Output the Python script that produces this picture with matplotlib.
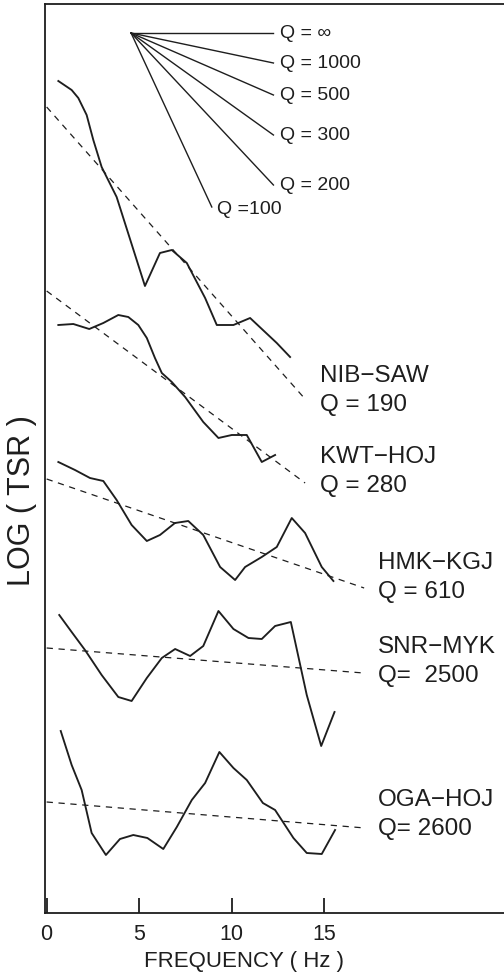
import matplotlib
matplotlib.use("Agg")
import matplotlib.pyplot as plt

plt.rcParams['font.family'] = ['Liberation Sans', 'DejaVu Sans']

# spectral ratio curves (log TSR in arbitrary offset units)
nib_f = [0.63, 1.35, 1.71, 2.16, 2.52, 2.97, 3.78, 5.31, 6.12, 6.76, 7.57, 8.56, 9.19, 10.09, 10.99, 12.43, 13.15]
nib_y = [8.32, 8.23, 8.15, 7.98, 7.73, 7.46, 7.16, 6.27, 6.60, 6.63, 6.50, 6.15, 5.88, 5.88, 5.95, 5.70, 5.56]

kwt_f = [0.63, 1.44, 2.30, 3.06, 3.87, 4.41, 4.95, 5.41, 5.85, 6.22, 6.76, 7.48, 8.46, 9.28, 10.0, 10.81, 11.62, 12.34]
kwt_y = [5.88, 5.89, 5.84, 5.90, 5.98, 5.96, 5.88, 5.75, 5.55, 5.40, 5.31, 5.16, 4.91, 4.75, 4.78, 4.78, 4.51, 4.58]

hmk_f = [0.63, 1.53, 2.34, 3.06, 3.78, 4.59, 5.41, 6.12, 6.93, 7.65, 8.46, 9.37, 10.18, 10.72, 11.62, 12.43, 13.24, 13.96, 14.86, 15.49]
hmk_y = [4.51, 4.43, 4.35, 4.32, 4.13, 3.88, 3.72, 3.78, 3.90, 3.92, 3.78, 3.46, 3.33, 3.46, 3.56, 3.66, 3.95, 3.80, 3.46, 3.32]

snr_f = [0.68, 1.35, 2.07, 2.97, 3.87, 4.59, 5.41, 6.22, 6.94, 7.75, 8.46, 9.28, 10.09, 10.90, 11.62, 12.34, 13.19, 14.05, 14.83, 15.55]
snr_y = [2.98, 2.81, 2.63, 2.38, 2.16, 2.12, 2.35, 2.55, 2.64, 2.57, 2.67, 3.02, 2.84, 2.75, 2.74, 2.87, 2.91, 2.18, 1.67, 2.01]

oga_f = [0.76, 1.35, 1.89, 2.43, 3.20, 3.96, 4.68, 5.44, 6.30, 7.03, 7.84, 8.56, 9.33, 10.09, 10.81, 11.68, 12.34, 13.33, 14.05, 14.86, 15.58]
oga_y = [1.82, 1.48, 1.23, 0.80, 0.58, 0.74, 0.78, 0.75, 0.64, 0.86, 1.13, 1.30, 1.61, 1.45, 1.33, 1.10, 1.03, 0.75, 0.60, 0.59, 0.83]

# fitted straight lines: (f start, f end), (y start, y end)
fit_f = [(0, 13.96), (0, 13.96), (0, 17.15), (0, 17.12), (0, 17.2)]
fit_y = [(8.06, 5.14), (6.22, 4.30), (4.34, 3.25), (2.65, 2.40), (1.11, 0.85)]

pairs = ['NIB\u2212SAW', 'KWT\u2212HOJ', 'HMK\u2212KGJ', 'SNR\u2212MYK', 'OGA\u2212HOJ']
pair_q = ['Q = 190', 'Q = 280', 'Q = 610', 'Q=  2500', 'Q= 2600']
label_f = [14.77, 14.77, 17.9, 17.9, 17.9]
label_y = [5.37, 4.56, 3.50, 2.66, 1.13]

# reference slopes fan
fan_apex = (4.56, 8.80)
fan_q = ['Q = \u221e', 'Q = 1000', 'Q = 500', 'Q = 300', 'Q = 200', 'Q =100']
fan_end_f = [12.25, 12.25, 12.25, 12.25, 12.25, 8.92]
fan_end_y = [8.80, 8.50, 8.18, 7.78, 7.28, 7.06]
fan_lab_f = [12.61, 12.61, 12.61, 12.61, 12.61, 9.22]
fan_lab_y = [8.80, 8.50, 8.18, 7.78, 7.28, 7.04]

ink = '#1e1e1e'

fig = plt.figure(figsize=(5.04, 9.76), dpi=100)
ax = fig.add_axes([45 / 504, 63 / 976, 470 / 504, 909 / 976])

for f, y in [(nib_f, nib_y), (kwt_f, kwt_y), (hmk_f, hmk_y), (snr_f, snr_y), (oga_f, oga_y)]:
    ax.plot(f, y, color=ink, lw=1.35)

for f, y in zip(fit_f, fit_y):
    ax.plot(f, y, color=ink, lw=0.9, dashes=(5, 4.5))

for name, q, x, y in zip(pairs, pair_q, label_f, label_y):
    ax.text(x, y, name, fontsize=17.5, color=ink, va='center', ha='left')
    ax.text(x, y - 0.29, q, fontsize=17.5, color=ink, va='center', ha='left')

for ef, ey, lf, ly, q in zip(fan_end_f, fan_end_y, fan_lab_f, fan_lab_y, fan_q):
    ax.plot([fan_apex[0], ef], [fan_apex[1], ey], color=ink, lw=1.0)
    ax.text(lf, ly, q, fontsize=14, color=ink, va='center', ha='left')

ax.set_xlim(-0.09, 25.3)
ax.set_ylim(0, 9.09)
ax.spines['right'].set_visible(False)
for s in ['left', 'top', 'bottom']:
    ax.spines[s].set_linewidth(1.3)
    ax.spines[s].set_color(ink)

ax.set_xticks([0, 5, 10, 15])
ax.set_xticklabels(['0', '5', '10', '15'])
ax.tick_params(axis='x', direction='in', length=11, width=1.3, color=ink,
               labelsize=15.5, pad=8, labelcolor=ink)
ax.set_yticks([])

fig.text(244 / 504, 1 - 962 / 976, 'FREQUENCY ( Hz )', fontsize=16, color=ink,
         ha='center', va='center')
fig.text(22 / 504, 1 - 501 / 976, 'LOG ( TSR )', rotation=90, fontsize=22,
         color=ink, ha='center', va='center')

fig.savefig('out.png', dpi=100)
